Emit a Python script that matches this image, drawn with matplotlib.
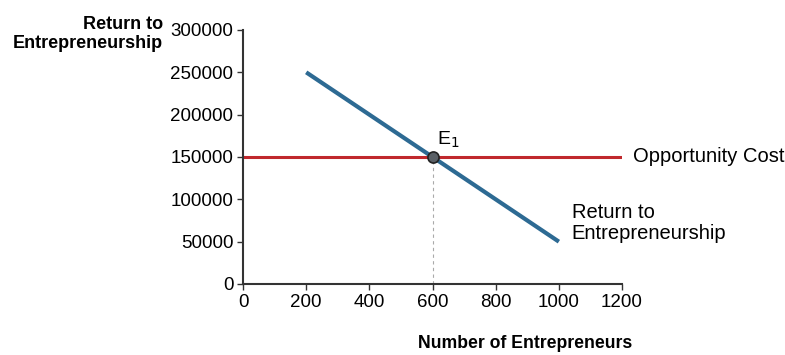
import matplotlib.pyplot as plt

# data
supply_x = [200, 1000]
supply_y = [250000, 50000]
cost_x = [0, 1200]
cost_y = [150000, 150000]
eq_x = 600
eq_y = 150000
xticks = [0, 200, 400, 600, 800, 1000, 1200]
yticks = [0, 50000, 100000, 150000, 200000, 250000, 300000]

plt.rcParams['font.family'] = ['Liberation Sans', 'DejaVu Sans']

fig = plt.figure(figsize=(7.85, 3.55), dpi=100)
ax = fig.add_axes([0.3096, 0.2, 0.4828, 0.7155])

ax.plot(cost_x, cost_y, color='#c0282d', lw=2.2, solid_capstyle='butt')
ax.plot(supply_x, supply_y, color='#2d6a93', lw=3, solid_capstyle='butt')
ax.plot([eq_x, eq_x], [0, eq_y], color='#aaaaaa', lw=0.8, ls=(0, (3, 3)))
ax.plot(eq_x, eq_y, 'o', ms=8, mfc='#5a6066', mec='#222222', mew=1.2, zorder=5)

ax.set_xlim(0, 1200)
ax.set_ylim(0, 300000)
ax.set_xticks(xticks)
ax.set_yticks(yticks)
ax.tick_params(labelsize=13.5, length=4, width=1, color='#333333', pad=3)
for s in ['top', 'right']:
    ax.spines[s].set_visible(False)
for s in ['left', 'bottom']:
    ax.spines[s].set_linewidth(1.5)
    ax.spines[s].set_color('#333333')

ax.text(eq_x + 15, eq_y + 8000, 'E$_1$', fontsize=14, ha='left', va='bottom')
ax.text(1235, eq_y, 'Opportunity Cost', fontsize=14.5, va='center', ha='left',
        clip_on=False)
ax.text(1040, 72000, 'Return to\nEntrepreneurship', fontsize=14.5, va='center',
        ha='left', linespacing=1.15, clip_on=False)

fig.text(163 / 785, 1 - 34 / 355, 'Return to\nEntrepreneurship', fontsize=13,
         fontweight='bold', ha='right', va='center', linespacing=1.1)
fig.text(632 / 785, 1 - 343 / 355, 'Number of Entrepreneurs', fontsize=12.7,
         fontweight='bold', ha='right', va='center')

fig.savefig('out.png', dpi=100)
